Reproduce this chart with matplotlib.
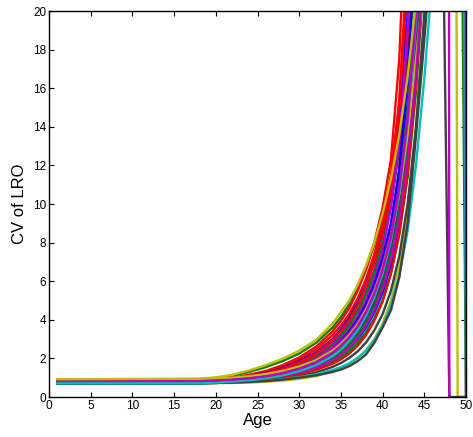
import numpy as np
import matplotlib
matplotlib.use("Agg")
import matplotlib.pyplot as plt

plt.rcParams['font.family'] = ['Liberation Sans', 'DejaVu Sans']

# Ages at which the CV values were read
AGES = [1, 18, 20, 22, 24, 26, 28, 30, 32, 34, 35, 36, 37, 38, 39, 40,
        41, 42, 43, 44, 45, 46, 47, 48, 49, 50]

NA = float('nan')

# CV of LRO, one row per curve (rows end once the curve leaves the plot)
# early-rising group
cv_a1 = [0.92, 0.95, 1.02, 1.15, 1.38, 1.65, 1.98, 2.4, 2.95, 3.8, 4.4, 5.0, 5.8, 6.8, 8.0, 9.5, 11.3, 13.6, 16.6, 20.5, 26]
cv_a2 = [0.9, 0.93, 0.99, 1.1, 1.3, 1.55, 1.86, 2.25, 2.8, 3.6, 4.15, 4.8, 5.6, 6.6, 7.9, 9.4, 11.3, 13.9, 17.3, 22]
cv_a3 = [0.83, 0.85, 0.9, 1.0, 1.15, 1.35, 1.65, 2.05, 2.6, 3.4, 3.95, 4.6, 5.5, 6.6, 8.0, 9.8, 12.3, 17.5, 28]
cv_a4 = [0.83, 0.85, 0.89, 0.98, 1.12, 1.3, 1.58, 1.95, 2.45, 3.2, 3.7, 4.3, 5.1, 6.1, 7.4, 9.1, 11.5, 15.2, 21.5]
cv_a5 = [0.83, 0.84, 0.88, 0.96, 1.08, 1.25, 1.5, 1.85, 2.3, 3.0, 3.5, 4.1, 4.85, 5.8, 7.0, 8.6, 10.8, 14.2, 19.8, 28]
cv_a6 = [0.83, 0.84, 0.87, 0.94, 1.05, 1.2, 1.42, 1.75, 2.2, 2.85, 3.3, 3.85, 4.55, 5.45, 6.6, 8.1, 10.2, 13.2, 18.0, 25]
cv_a7 = [0.83, 0.84, 0.87, 0.93, 1.03, 1.17, 1.38, 1.68, 2.1, 2.7, 3.15, 3.7, 4.4, 5.3, 6.5, 8.2, 10.6, 14.8, 22]
cv_a8 = [0.72, 0.73, 0.77, 0.84, 0.95, 1.1, 1.32, 1.62, 2.05, 2.7, 3.15, 3.7, 4.4, 5.3, 6.45, 7.9, 9.9, 12.8, 17.0, 23.5]
cv_a9 = [0.83, 0.84, 0.86, 0.92, 1.0, 1.13, 1.32, 1.6, 2.0, 2.6, 3.0, 3.5, 4.15, 5.0, 6.1, 7.6, 9.8, 13.2, 19.0, 28]
cv_a10 = [0.83, 0.84, 0.88, 0.95, 1.06, 1.22, 1.46, 1.8, 2.25, 2.95, 3.42, 4.0, 4.75, 5.75, 7.05, 8.8, 11.3, 15.4, 23]
# middle group
cv_b1 = [0.83, 0.83, 0.86, 0.91, 0.99, 1.1, 1.28, 1.55, 1.92, 2.5, 2.9, 3.4, 4.0, 4.8, 5.85, 7.2, 9.0, 11.6, 15.2, 20.5, 28]
cv_b2 = [0.72, 0.73, 0.76, 0.82, 0.9, 1.02, 1.2, 1.45, 1.8, 2.35, 2.72, 3.2, 3.8, 4.55, 5.5, 6.8, 8.6, 11.1, 14.6, 19.5, 27]
cv_b3 = [0.83, 0.83, 0.85, 0.9, 0.97, 1.07, 1.23, 1.47, 1.8, 2.3, 2.65, 3.1, 3.65, 4.4, 5.35, 6.6, 8.3, 10.8, 14.4, 19.8, 28]
cv_b4 = [0.83, 0.83, 0.85, 0.89, 0.96, 1.06, 1.2, 1.42, 1.72, 2.2, 2.55, 3.0, 3.55, 4.3, 5.3, 6.7, 8.7, 11.8, 16.8, 25]
cv_b5 = [0.83, 0.83, 0.84, 0.88, 0.94, 1.03, 1.16, 1.36, 1.65, 2.1, 2.42, 2.83, 3.35, 4.05, 4.95, 6.15, 7.8, 10.2, 13.7, 18.8, 26]
cv_b6 = [0.72, 0.73, 0.76, 0.81, 0.89, 1.0, 1.17, 1.4, 1.75, 2.25, 2.6, 3.05, 3.6, 4.35, 5.3, 6.55, 8.3, 10.9, 14.8, 20.5, 29]
cv_b7 = [0.72, 0.72, 0.74, 0.79, 0.86, 0.96, 1.1, 1.3, 1.58, 2.0, 2.3, 2.7, 3.2, 3.9, 4.8, 6.0, 7.7, 10.1, 13.6, 18.7, 26]
cv_b8 = [0.72, 0.72, 0.75, 0.8, 0.87, 0.97, 1.12, 1.34, 1.65, 2.12, 2.46, 2.9, 3.45, 4.2, 5.15, 6.4, 8.1, 10.6, 14.2, 19.4, 27]
cv_b9 = [0.83, 0.83, 0.85, 0.9, 0.97, 1.08, 1.24, 1.48, 1.82, 2.33, 2.7, 3.15, 3.72, 4.48, 5.5, 6.9, 8.85, 11.8, 16.5, 24]
cv_b10 = [0.92, 0.92, 0.95, 1.0, 1.08, 1.19, 1.35, 1.58, 1.9, 2.4, 2.75, 3.2, 3.75, 4.5, 5.45, 6.7, 8.3, 10.5, 13.6, 17.5, 21.5, 40, 70, 150, 0, 0]
# late-rising group
cv_c1 = [0.83, 0.83, 0.84, 0.87, 0.92, 0.99, 1.1, 1.27, 1.52, 1.92, 2.2, 2.58, 3.05, 3.7, 4.5, 5.6, 7.1, 9.2, 12.3, 16.6, 22.5, 60, 600, 0, NA, NA]
cv_c2 = [0.72, 0.72, 0.74, 0.78, 0.84, 0.93, 1.06, 1.26, 1.54, 1.97, 2.28, 2.68, 3.18, 3.85, 4.7, 5.8, 7.3, 9.5, 12.7, 17.3, 24]
cv_c3 = [0.72, 0.72, 0.74, 0.78, 0.83, 0.91, 1.03, 1.21, 1.48, 1.88, 2.17, 2.5, 2.95, 3.55, 4.3, 5.35, 6.8, 8.9, 12.0, 16.5, 23]
cv_c4 = [0.72, 0.72, 0.73, 0.77, 0.82, 0.89, 1.0, 1.17, 1.42, 1.8, 2.05, 2.38, 2.8, 3.35, 4.05, 5.0, 6.4, 8.4, 11.4, 15.8, 22]
cv_c5 = [0.72, 0.72, 0.72, 0.73, 0.75, 0.79, 0.85, 0.94, 1.08, 1.32, 1.48, 1.7, 2.0, 2.42, 3.0, 3.8, 5.0, 6.8, 9.6, 13.8, 19.5, 27]
cv_c6 = [0.72, 0.72, 0.73, 0.75, 0.78, 0.83, 0.9, 1.0, 1.12, 1.3, 1.42, 1.6, 1.85, 2.2, 2.8, 3.6, 4.5, 6.2, 9.0, 13.5, 18.5, 24, 32, 0, 0, 0]
cv_c7 = [0.72, 0.72, 0.73, 0.75, 0.79, 0.84, 0.92, 1.03, 1.18, 1.4, 1.55, 1.75, 2.02, 2.4, 2.95, 3.7, 4.75, 6.3, 8.6, 12.0, 16.5, 22.0, 40, 70, 100, 0]
cv_c8 = [0.72, 0.72, 0.74, 0.79, 0.86, 0.96, 1.11, 1.33, 1.64, 2.05, 2.35, 2.72, 3.2, 3.85, 4.65, 5.75, 7.25, 9.4, 12.5, 17.0, 23, 40, 45, 48, 50, 0]
cv_c9 = [0.83, 0.83, 0.86, 0.92, 1.01, 1.14, 1.33, 1.6, 1.98, 2.5, 2.85, 3.3, 3.85, 4.6, 5.55, 6.8, 8.5, 10.9, 14.4, 19.6, 50, 100, 200, 400, 800, 0]
cv_c10 = [0.83, 0.83, 0.84, 0.87, 0.92, 1.0, 1.12, 1.3, 1.56, 1.95, 2.22, 2.58, 3.02, 3.62, 4.4, 5.45, 6.9, 9.0, 12.1, 16.6, 23]
cv_c11 = [0.83, 0.83, 0.84, 0.86, 0.9, 0.96, 1.05, 1.19, 1.4, 1.72, 1.95, 2.25, 2.65, 3.2, 3.95, 4.95, 6.4, 8.5, 11.6, 16.2, 23]
cv_c12 = [0.72, 0.72, 0.73, 0.76, 0.8, 0.86, 0.95, 1.08, 1.27, 1.56, 1.76, 2.02, 2.36, 2.82, 3.45, 4.3, 5.5, 7.3, 10.0, 14.0, 19.8, 27]

# drawing order (later curves are drawn on top)
curves = [cv_a2, cv_c5, cv_c12, cv_a3, cv_a4, cv_a5, cv_a6, cv_a7, cv_a8, cv_a9,
          cv_a10, cv_b1, cv_b2, cv_b4, cv_b5, cv_b6, cv_b7, cv_b9, cv_c2, cv_c3,
          cv_c4, cv_c10, cv_c11, cv_c8, cv_c7, cv_c9, cv_b10, cv_c6, cv_c1,
          cv_b8, cv_b3, cv_a1]

# style: MATLAB classic colour letters for each curve (same order as above)
MCOL = {'b': (0, 0, 1), 'g': (0, 0.5, 0), 'r': (1, 0, 0), 'c': (0, 0.75, 0.75),
        'm': (0.75, 0, 0.75), 'y': (0.75, 0.75, 0), 'k': (0.25, 0.25, 0.25)}
curve_colors = ['g', 'y', 'k', 'r', 'r', 'b', 'm', 'r', 'g', 'm',
                'r', 'b', 'c', 'r', 'b', 'g', 'k', 'b', 'k', 'c',
                'g', 'b', 'r', 'g', 'c', 'm', 'y', 'k', 'm',
                'c', 'm', 'y']

fig = plt.figure(figsize=(4.73, 4.37), dpi=100)
ax = fig.add_axes([0.1036, 0.0915, 0.8816, 0.8833])

ages = np.array(AGES, dtype=float)
for vals, col in zip(curves, curve_colors):
    y = np.full(len(ages), np.nan)
    y[:len(vals)] = vals
    ax.plot(ages, y, color=MCOL[col], lw=1.7, solid_joinstyle='round')

ax.set_xlim(0, 50)
ax.set_ylim(0, 20)
ax.set_xticks(range(0, 51, 5))
ax.set_yticks(range(0, 21, 2))
ax.tick_params(direction='in', length=3.5, width=0.8, top=True, right=True,
               labelsize=8.5, pad=2, colors='black')
for s in ax.spines.values():
    s.set_linewidth(1.0)
    s.set_color('black')
ax.set_xlabel('Age', fontsize=12, labelpad=1)
ax.set_ylabel('CV of LRO', fontsize=12, labelpad=4)

fig.savefig('out.png', dpi=100)
